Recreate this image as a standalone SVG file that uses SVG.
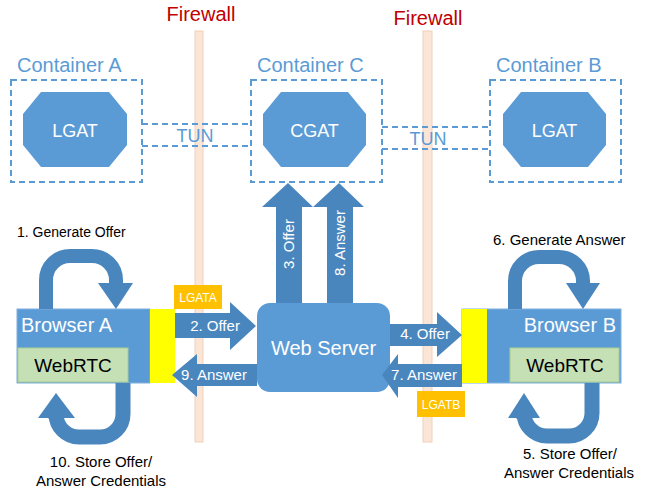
<svg xmlns="http://www.w3.org/2000/svg" width="649" height="493" viewBox="0 0 649 493">
<style>
text{font-family:"Liberation Sans",Arial,sans-serif}
.fw{fill:#FBE5D6;stroke:#F2D0BA;stroke-width:1}
.fwt{fill:#C00000;font-size:20px;text-anchor:middle}
.cl{fill:#5B9BD5;font-size:20px}
.box{fill:none;stroke:#5B9BD5;stroke-width:2;stroke-dasharray:6 4}
.oct{fill:#5B9BD5}
.wt{fill:#fff}
.arr{fill:#4A86BE}
.loop{fill:none;stroke:#4A86BE}
.lab{fill:#000;font-size:15px}
.blue{fill:#5B9BD5;stroke:#7FB0DF;stroke-width:1}
.green{fill:#C5E0B4;stroke:#A8CD92;stroke-width:1}
.tun{fill:#5B9BD5;font-size:18px;text-anchor:middle}
</style>

<g id="firewall1">
<rect class="fw" x="195" y="31" width="8" height="411"/>
<text class="fwt" x="201" y="21">Firewall</text>
</g>
<g id="firewall2">
<rect class="fw" x="423" y="31" width="9" height="411"/>
<text class="fwt" x="428" y="25">Firewall</text>
</g>

<g id="containerA">
<text class="cl" x="17" y="72">Container A</text>
<rect class="box" x="11" y="80" width="131" height="102"/>
</g>
<g id="lgatA">
<polygon class="oct" points="41,92 109,92 127,114 127,145 109,167 41,167 23,145 23,114"/>
<text class="wt" x="75" y="137" font-size="18" text-anchor="middle">LGAT</text>
</g>

<g id="containerC">
<text class="cl" x="257" y="72">Container C</text>
<rect class="box" x="251" y="80" width="131" height="102"/>
</g>
<g id="cgat">
<polygon class="oct" points="281,92 348,92 366,114 366,145 348,167 281,167 263,145 263,114"/>
<text class="wt" x="314.5" y="137" font-size="18" text-anchor="middle">CGAT</text>
</g>

<g id="containerB">
<text class="cl" x="496" y="72">Container B</text>
<rect class="box" x="490" y="80" width="131" height="102"/>
</g>
<g id="lgatB">
<polygon class="oct" points="521,92 588,92 606,114 606,145 588,167 521,167 503,145 503,114"/>
<text class="wt" x="554.5" y="137" font-size="18" text-anchor="middle">LGAT</text>
</g>

<g id="webServer">
<rect x="257" y="303" width="133" height="89" rx="13" fill="#5B9BD5"/>
<text class="wt" x="323.5" y="355" font-size="20" text-anchor="middle">Web Server</text>
</g>

<g id="browserA">
<rect class="blue" x="17" y="309" width="133" height="74"/>
<rect x="150" y="309" width="25" height="74" fill="#FFFF00"/>
<text class="wt" x="21" y="332" font-size="20">Browser A</text>
<rect class="green" x="18" y="348" width="110" height="34"/>
<text x="73" y="372" font-size="19" text-anchor="middle" fill="#000">WebRTC</text>
</g>

<g id="browserB">
<rect class="blue" x="462" y="309" width="159" height="74"/>
<rect x="462" y="309" width="25" height="74" fill="#FFFF00"/>
<text class="wt" x="616" y="332" font-size="20" text-anchor="end">Browser B</text>
<rect class="green" x="510" y="348" width="109" height="34"/>
<text x="565" y="372" font-size="19" text-anchor="middle" fill="#000">WebRTC</text>
</g>

<g id="lgataTag">
<rect x="174" y="285" width="48" height="24" fill="#FFC000"/>
<text class="wt" x="198" y="302" font-size="12" text-anchor="middle">LGATA</text>
</g>
<g id="lgatbTag">
<rect x="417" y="391" width="48" height="26" fill="#FFC000"/>
<text class="wt" x="441" y="409" font-size="12" text-anchor="middle">LGATB</text>
</g>

<g id="connectors">
<g id="tunAC">
<line class="box" x1="142" y1="124" x2="251" y2="124"/>
<line class="box" x1="142" y1="146" x2="251" y2="146"/>
<text class="tun" x="195" y="142">TUN</text>
</g>
<g id="tunCB">
<line class="box" x1="382" y1="127" x2="490" y2="127"/>
<line class="box" x1="382" y1="149" x2="490" y2="149"/>
<text class="tun" x="428" y="145">TUN</text>
</g>

<g id="arrow2">
<polygon class="arr" points="175,313 230,313 230,302 256,326 230,350 230,338 175,338"/>
<text class="wt" x="215" y="331" font-size="15" text-anchor="middle">2. Offer</text>
</g>
<g id="arrow9">
<polygon class="arr" points="257,364 197,364 197,354 172,375 197,397 197,386 257,386"/>
<text class="wt" x="214" y="380" font-size="15" text-anchor="middle">9. Answer</text>
</g>
<g id="arrow4">
<polygon class="arr" points="390,324 437,324 437,312 462,335 437,357 437,346 390,346"/>
<text class="wt" x="425" y="339" font-size="15" text-anchor="middle">4. Offer</text>
</g>
<g id="arrow7">
<polygon class="arr" points="462,364 398,364 398,354 382,375 398,398 398,387 462,387"/>
<text class="wt" x="424" y="380" font-size="15" text-anchor="middle">7. Answer</text>
</g>
<g id="arrow3">
<polygon class="arr" points="276,303 276,207 262,207 288,183 313,207 302,207 302,303"/>
<text class="wt" font-size="15" text-anchor="middle" transform="translate(294,244) rotate(-90)">3. Offer</text>
</g>
<g id="arrow8">
<polygon class="arr" points="327,303 327,207 313,207 339,183 364,207 353,207 353,303"/>
<text class="wt" font-size="15" text-anchor="middle" transform="translate(345,243) rotate(-90)">8. Answer</text>
</g>

<g id="loop1">
<path class="loop" stroke-width="14" d="M46,309 V280 A24,24 0 0 1 70,256 H92 A24,24 0 0 1 116,280 V284"/>
<polygon class="arr" points="98,283 133,283 116,309"/>
<text class="lab" x="17" y="237" font-size="14" style="font-size:14px">1. Generate Offer</text>
</g>
<g id="loop6">
<path class="loop" stroke-width="14" d="M515,309 V281 A24,24 0 0 1 539,257 H559 A24,24 0 0 1 583,281 V284"/>
<polygon class="arr" points="566,283 600,283 583,309"/>
<text class="lab" x="493" y="245">6. Generate Answer</text>
</g>
<g id="loop10">
<path class="loop" stroke-width="15" d="M123,383 V414 A23,23 0 0 1 100,437 H79 A23,23 0 0 1 56,414 V419"/>
<polygon class="arr" points="38,418 75,418 56,393"/>
<text class="lab" x="101" y="467" text-anchor="middle">10. Store Offer/</text>
<text class="lab" x="101" y="486" text-anchor="middle">Answer Credentials</text>
</g>
<g id="loop5">
<path class="loop" stroke-width="15" d="M592,383 V413 A23,23 0 0 1 569,436 H547 A23,23 0 0 1 524,413 V419"/>
<polygon class="arr" points="508,418 540,418 524,393"/>
<text class="lab" x="570" y="459" text-anchor="middle">5. Store Offer/</text>
<text class="lab" x="569" y="478" text-anchor="middle">Answer Credentials</text>
</g>
</g>
</svg>
